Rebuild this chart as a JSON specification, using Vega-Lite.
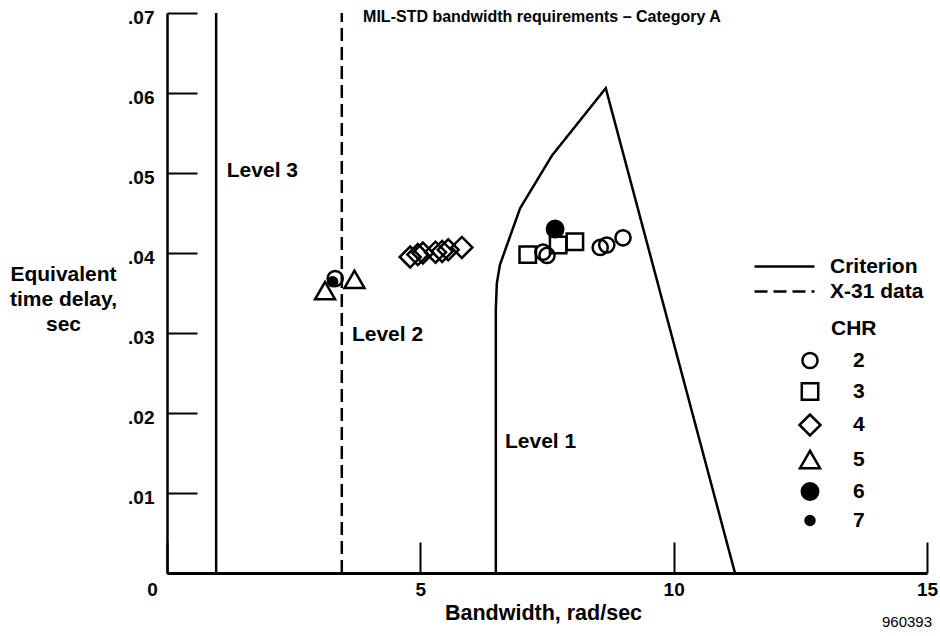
{
  "$schema": "https://vega.github.io/schema/vega-lite/v6.json",
  "width": 760,
  "height": 560,
  "autosize": "none",
  "padding": {"left": 167, "top": 13, "right": 13, "bottom": 63},
  "background": "white",
  "config": {"font": "Liberation Sans", "view": {"stroke": null}},
  "datasets": {
    "lines": [
      {"series": "L3", "type": "Criterion", "o": 1, "x": 0.97, "y": 0},
      {"series": "L3", "type": "Criterion", "o": 2, "x": 0.97, "y": 0.07},
      {"series": "X31", "type": "X-31 data", "o": 1, "x": 3.45, "y": 0},
      {"series": "X31", "type": "X-31 data", "o": 2, "x": 3.45, "y": 0.07},
      {"series": "L1", "type": "Criterion", "o": 1, "x": 6.49, "y": 0},
      {"series": "L1", "type": "Criterion", "o": 2, "x": 6.49, "y": 0.0330},
      {"series": "L1", "type": "Criterion", "o": 3, "x": 6.51, "y": 0.0362},
      {"series": "L1", "type": "Criterion", "o": 4, "x": 6.57, "y": 0.0385},
      {"series": "L1", "type": "Criterion", "o": 5, "x": 6.71, "y": 0.0410},
      {"series": "L1", "type": "Criterion", "o": 6, "x": 6.97, "y": 0.0456},
      {"series": "L1", "type": "Criterion", "o": 7, "x": 7.6, "y": 0.0522},
      {"series": "L1", "type": "Criterion", "o": 8, "x": 8.66, "y": 0.0606},
      {"series": "L1", "type": "Criterion", "o": 9, "x": 11.21, "y": 0}
    ],
    "points": [
      {"chr": "2", "x": 3.32, "y": 0.0368},
      {"chr": "2", "x": 7.42, "y": 0.0401},
      {"chr": "2", "x": 7.50, "y": 0.0397},
      {"chr": "2", "x": 8.55, "y": 0.0407},
      {"chr": "2", "x": 8.68, "y": 0.0410},
      {"chr": "2", "x": 9.0, "y": 0.0419},
      {"chr": "3", "x": 7.12, "y": 0.0398},
      {"chr": "3", "x": 7.72, "y": 0.0410},
      {"chr": "3", "x": 8.05, "y": 0.0414},
      {"chr": "4", "x": 4.80, "y": 0.0395},
      {"chr": "4", "x": 4.95, "y": 0.0398},
      {"chr": "4", "x": 5.05, "y": 0.0400},
      {"chr": "4", "x": 5.30, "y": 0.0401},
      {"chr": "4", "x": 5.43, "y": 0.0402},
      {"chr": "4", "x": 5.55, "y": 0.0404},
      {"chr": "4", "x": 5.82, "y": 0.0407},
      {"chr": "5", "x": 3.12, "y": 0.0353},
      {"chr": "5", "x": 3.70, "y": 0.0367},
      {"chr": "6", "x": 7.66, "y": 0.0430},
      {"chr": "7", "x": 3.27, "y": 0.0364}
    ],
    "levels": [
      {"label": "Level 3", "x": 1.18, "y": 0.0503},
      {"label": "Level 2", "x": 3.65, "y": 0.0298},
      {"label": "Level 1", "x": 6.67, "y": 0.0164}
    ],
    "heading": [
      {"label": "MIL-STD bandwidth requirements – Category A", "x": 3.87, "y": 0.0695}
    ],
    "figid": [
      {"label": "960393", "x": 15.1, "y": -0.0061}
    ]
  },
  "layer": [
    {
      "data": {"name": "lines"},
      "mark": {"type": "line", "stroke": "black", "strokeWidth": 2.5, "clip": false},
      "encoding": {
        "x": {
          "field": "x", "type": "quantitative",
          "scale": {"domain": [0, 15], "nice": false, "zero": false},
          "axis": {
            "values": [0, 5, 10, 15],
            "title": "Bandwidth, rad/sec",
            "titleFontSize": 21.5, "titleFontWeight": "bold", "titleColor": "black",
            "titleX": 376, "titleY": 40, "titleBaseline": "middle", "titleAlign": "center",
            "labelFontSize": 19, "labelFontWeight": "bold", "labelColor": "black",
            "labelPadding": 38, "labelAlign": "center",
            "labelOffset": {"expr": "datum.value == 0 ? -15 : 0"},
            "labelFlush": false,
            "tickSize": -31, "tickWidth": 2, "tickColor": "black",
            "domainColor": "black", "domainWidth": 3,
            "grid": false
          }
        },
        "y": {
          "field": "y", "type": "quantitative",
          "scale": {"domain": [0, 0.07], "nice": false},
          "axis": {
            "values": [0, 0.01, 0.02, 0.03, 0.04, 0.05, 0.06, 0.07],
            "labelExpr": "datum.value == 0 ? '' : replace(format(datum.value, '.2f'), '0.', '.')",
            "title": ["Equivalent", "time delay,", "sec"],
            "titleAngle": 0, "titleFontSize": 21, "titleFontWeight": "bold", "titleColor": "black",
            "titleX": -104, "titleY": 261, "titleAlign": "center", "titleBaseline": "middle",
            "titleLineHeight": 25,
            "labelFontSize": 19, "labelFontWeight": "bold", "labelColor": "black",
            "labelPadding": 43, "labelBaseline": "middle", "labelOffset": 4,
            "tickSize": -30, "tickWidth": 2, "tickColor": "black",
            "domainColor": "black", "domainWidth": 2.5,
            "grid": false
          }
        },
        "detail": {"field": "series"},
        "order": {"field": "o", "type": "quantitative"},
        "strokeDash": {
          "field": "type", "type": "nominal",
          "scale": {"domain": ["Criterion", "X-31 data"], "range": [[1, 0], [13, 6]]},
          "legend": {
            "title": null, "orient": "none", "legendX": 606, "legendY": 242,
            "symbolType": "M-3,0H3", "symbolSize": 400, "symbolStrokeWidth": 2.5,
            "symbolStrokeColor": "black",
            "labelFontSize": 21, "labelFontWeight": "bold", "labelColor": "black",
            "labelOffset": 34, "rowPadding": 3, "padding": 0
          }
        }
      }
    },
    {
      "data": {"name": "points"},
      "mark": {"type": "point", "strokeWidth": 2.5, "opacity": 1},
      "encoding": {
        "x": {"field": "x", "type": "quantitative"},
        "y": {"field": "y", "type": "quantitative"},
        "shape": {
          "field": "chr", "type": "nominal",
          "scale": {"domain": ["2", "3", "4", "5", "6", "7"], "range": ["circle", "square", "diamond", "triangle-up", "circle", "circle"]},
          "legend": {
            "title": "CHR", "orient": "none", "legendX": 631, "legendY": 305,
            "titleFontSize": 21, "titleFontWeight": "bold", "titleColor": "black",
            "titleAnchor": "middle", "titleAlign": "left", "titlePadding": 11,
            "labelFontSize": 21, "labelFontWeight": "bold", "labelColor": "black",
            "labelOffset": 31, "rowPadding": 4, "padding": 0,
            "symbolStrokeColor": "black", "symbolStrokeWidth": 2.5
          }
        },
        "fill": {
          "field": "chr", "type": "nominal",
          "scale": {"domain": ["2", "3", "4", "5", "6", "7"], "range": ["transparent", "transparent", "transparent", "transparent", "black", "black"]},
          "legend": {
            "title": "CHR", "orient": "none", "legendX": 631, "legendY": 305,
            "titleFontSize": 21, "titleFontWeight": "bold", "titleColor": "black",
            "titleAnchor": "middle", "titleAlign": "left", "titlePadding": 11,
            "labelFontSize": 21, "labelFontWeight": "bold", "labelColor": "black",
            "labelOffset": 31, "rowPadding": 4, "padding": 0,
            "symbolStrokeColor": "black", "symbolStrokeWidth": 2.5
          }
        },
        "stroke": {
          "field": "chr", "type": "nominal",
          "scale": {"domain": ["2", "3", "4", "5", "6", "7"], "range": ["black", "black", "black", "black", "black", "black"]},
          "legend": {
            "title": "CHR", "orient": "none", "legendX": 631, "legendY": 305,
            "titleFontSize": 21, "titleFontWeight": "bold", "titleColor": "black",
            "titleAnchor": "middle", "titleAlign": "left", "titlePadding": 11,
            "labelFontSize": 21, "labelFontWeight": "bold", "labelColor": "black",
            "labelOffset": 31, "rowPadding": 4, "padding": 0,
            "symbolStrokeColor": "black", "symbolStrokeWidth": 2.5
          }
        },
        "size": {
          "field": "chr", "type": "nominal",
          "scale": {"type": "ordinal", "domain": ["2", "3", "4", "5", "6", "7"], "range": [230, 270, 440, 400, 270, 80]},
          "legend": {
            "title": "CHR", "orient": "none", "legendX": 631, "legendY": 305,
            "titleFontSize": 21, "titleFontWeight": "bold", "titleColor": "black",
            "titleAnchor": "middle", "titleAlign": "left", "titlePadding": 11,
            "labelFontSize": 21, "labelFontWeight": "bold", "labelColor": "black",
            "labelOffset": 31, "rowPadding": 4, "padding": 0,
            "symbolStrokeColor": "black", "symbolStrokeWidth": 2.5
          }
        }
      }
    },
    {
      "data": {"name": "levels"},
      "mark": {"type": "text", "align": "left", "baseline": "middle", "fontSize": 21, "fontWeight": "bold", "color": "black"},
      "encoding": {
        "x": {"field": "x", "type": "quantitative"},
        "y": {"field": "y", "type": "quantitative"},
        "text": {"field": "label"}
      }
    },
    {
      "data": {"name": "heading"},
      "mark": {"type": "text", "align": "left", "baseline": "middle", "fontSize": 16, "fontWeight": "bold", "color": "black"},
      "encoding": {
        "x": {"field": "x", "type": "quantitative"},
        "y": {"field": "y", "type": "quantitative"},
        "text": {"field": "label"}
      }
    },
    {
      "data": {"name": "figid"},
      "mark": {"type": "text", "align": "right", "baseline": "middle", "fontSize": 15, "color": "black", "clip": false},
      "encoding": {
        "x": {"field": "x", "type": "quantitative"},
        "y": {"field": "y", "type": "quantitative"},
        "text": {"field": "label"}
      }
    }
  ]
}
